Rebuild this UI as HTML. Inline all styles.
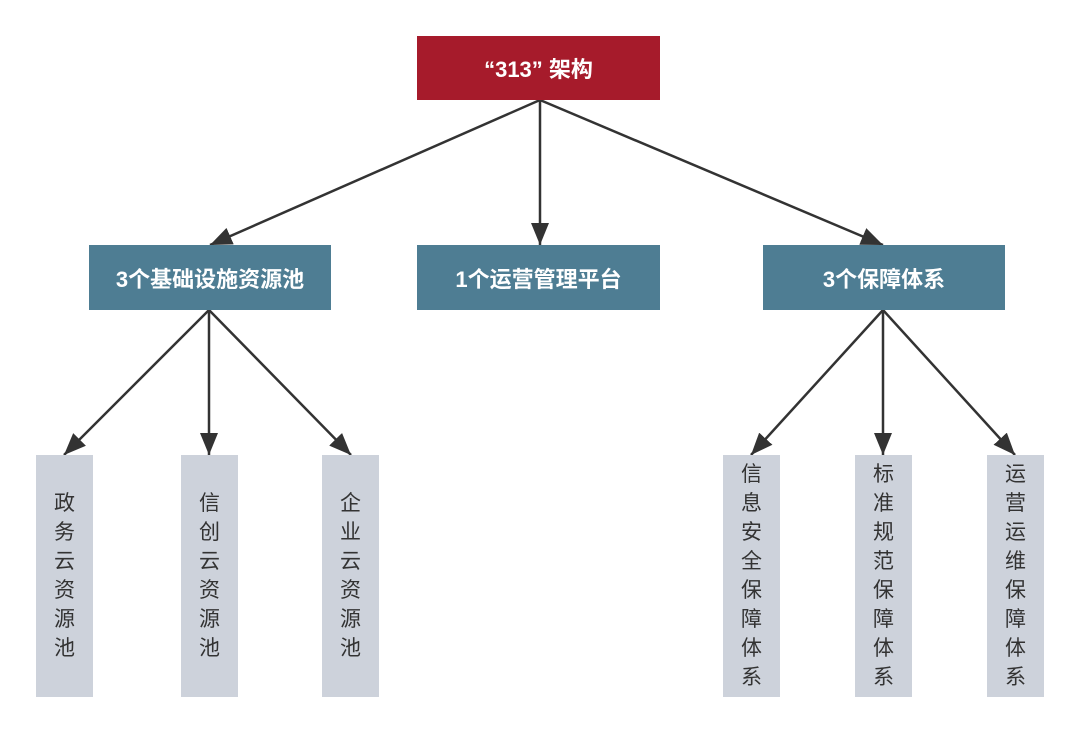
<!DOCTYPE html>
<html><head><meta charset="utf-8"><style>
body{margin:0;background:#fff;width:1080px;height:733px;position:relative;overflow:hidden;font-family:"Liberation Sans","Noto Sans CJK SC",sans-serif}
.b{position:absolute;display:flex;align-items:center;justify-content:center;color:#fff;font-weight:bold;font-size:22px}
.r{background:#a61b2b}
.t{background:#4e7d93}
.g{position:absolute;background:#cdd2db;top:455px;height:242px;width:57px;color:#333;font-size:21px;line-height:29px;text-align:center;display:flex;align-items:center;justify-content:center}
</style></head><body>
<svg width="1080" height="733" style="position:absolute;left:0;top:0">
<defs>
<marker id="m" viewBox="0 0 10 10" refX="10" refY="5" markerWidth="22" markerHeight="18" orient="auto" markerUnits="userSpaceOnUse" preserveAspectRatio="none"><path d="M0,0 L10,5 L0,10z" fill="#333"/></marker></defs>
<g stroke="#333" stroke-width="2.5" fill="none" marker-end="url(#m)">
<line x1="540" y1="100" x2="210" y2="245"/>
<line x1="540" y1="100" x2="540" y2="245"/>
<line x1="540" y1="100" x2="883" y2="245"/>
<line x1="209" y1="310" x2="64" y2="455"/>
<line x1="209" y1="310" x2="209" y2="455"/>
<line x1="209" y1="310" x2="351" y2="455"/>
<line x1="883" y1="310" x2="751" y2="455"/>
<line x1="883" y1="310" x2="883" y2="455"/>
<line x1="883" y1="310" x2="1015" y2="455"/>
</g></svg>
<div class="b r" style="left:417px;top:36px;width:243px;height:64px">“313” 架构</div>
<div class="b t" style="left:89px;top:245px;width:242px;height:65px">3个基础设施资源池</div>
<div class="b t" style="left:417px;top:245px;width:243px;height:65px">1个运营管理平台</div>
<div class="b t" style="left:763px;top:245px;width:242px;height:65px">3个保障体系</div>
<div class="g" style="left:36px"><div>政<br>务<br>云<br>资<br>源<br>池</div></div>
<div class="g" style="left:181px"><div>信<br>创<br>云<br>资<br>源<br>池</div></div>
<div class="g" style="left:322px"><div>企<br>业<br>云<br>资<br>源<br>池</div></div>
<div class="g" style="left:723px"><div>信<br>息<br>安<br>全<br>保<br>障<br>体<br>系</div></div>
<div class="g" style="left:855px"><div>标<br>准<br>规<br>范<br>保<br>障<br>体<br>系</div></div>
<div class="g" style="left:987px"><div>运<br>营<br>运<br>维<br>保<br>障<br>体<br>系</div></div>
</body></html>
